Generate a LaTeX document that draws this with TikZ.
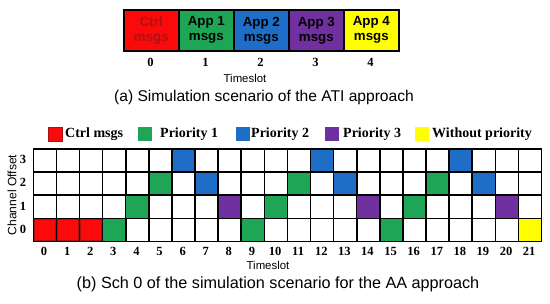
\documentclass[tikz,border=0pt]{standalone}
\usepackage{fontspec}
\setmainfont{Liberation Serif}
\setsansfont{Liberation Sans}
\definecolor{cred}{RGB}{250,10,10}
\definecolor{cdred}{RGB}{170,20,20}
\definecolor{cgreen}{RGB}{30,165,85}
\definecolor{cblue}{RGB}{30,110,200}
\definecolor{cpurple}{RGB}{112,48,160}
\definecolor{cyellow}{RGB}{255,255,0}
\begin{document}
\begin{tikzpicture}[x=1pt,y=-1pt,
  appbox/.style={draw=black, line width=1.6pt, minimum width=55pt, minimum height=41pt, inner sep=0pt,
    font=\sffamily\bfseries\fontsize{13.3}{15}\selectfont, align=center, anchor=north west},
  cellbox/.style={draw=black, line width=1.6pt, minimum width=23.1pt, minimum height=23.2pt, inner sep=0pt, anchor=north west},
  fillcell/.style={minimum width=21.6pt, minimum height=21.7pt, inner sep=0pt, anchor=center},
  legsq/.style={minimum width=14pt, minimum height=14pt, inner sep=0pt},
  legtxt/.style={font=\bfseries\fontsize{14}{16}\selectfont, anchor=west, inner sep=0pt},
  numlab/.style={font=\bfseries\fontsize{12.5}{14}\selectfont, inner sep=0pt},
  axlab/.style={font=\sffamily\fontsize{11.4}{13}\selectfont, inner sep=0pt},
  caplab/.style={font=\sffamily\fontsize{15.6}{18}\selectfont, inner sep=0pt}]
\useasboundingbox (0,0) rectangle (550,304);
% ---------- (a) ATI ----------
\node[appbox, fill=cred, text=cdred] (a0) at (123,9) {Ctrl\\msgs};
\node[appbox, fill=cgreen] (a1) at (178,9) {App 1\\msgs};
\node[appbox, fill=cblue] (a2) at (233,9) {App 2\\msgs};
\node[appbox, fill=cpurple] (a3) at (288,9) {App 3\\msgs};
\node[appbox, fill=cyellow] (a4) at (343,9) {App 4\\msgs};
\foreach \i in {0,...,4} {
  \node[numlab] (ta\i) at (150.5+55*\i,62) {\i};
}
\node[axlab] (tsa) at (245,78) {Timeslot};
\node[caplab] (capa) at (264,97) {(a) Simulation scenario of the ATI approach};
% ---------- legend ----------
\node[legsq, fill=cred, draw=cdred, line width=0.8pt] (l0) at (55,134) {};
\node[legtxt] (lt0) at (65,134) {Ctrl msgs};
\node[legsq, fill=cgreen] (l1) at (145,134) {};
\node[legtxt] (lt1) at (160,134) {Priority 1};
\node[legsq, fill=cblue] (l2) at (243,134) {};
\node[legtxt] (lt2) at (251,134) {Priority 2};
\node[legsq, fill=cpurple] (l3) at (331.5,134) {};
\node[legtxt] (lt3) at (343,134) {Priority 3};
\node[legsq, fill=cyellow] (l4) at (421.5,134) {};
\node[legtxt] (lt4) at (432,134) {Without priority};
% ---------- grid ----------
\foreach \c in {0,...,21} {
  \foreach \r in {0,...,3} {
    \node[cellbox] (c\c-\r) at (32.5+23.1*\c, 148+23.2*3-23.2*\r) {};
  }
  \node[numlab] (tc\c) at (32.5+23.1*\c+11.55, 251) {\c};
}
\foreach \r in {0,...,3} {
  \node[numlab] (tr\r) at (23, 148+23.2*3-23.2*\r+11.6) {\r};
}
\foreach \c/\r/\col in {0/0/cred,1/0/cred,2/0/cred,3/0/cgreen,9/0/cgreen,15/0/cgreen,21/0/cyellow,
  4/1/cgreen,8/1/cpurple,10/1/cgreen,14/1/cpurple,16/1/cgreen,20/1/cpurple,
  5/2/cgreen,7/2/cblue,11/2/cgreen,13/2/cblue,17/2/cgreen,19/2/cblue,
  6/3/cblue,12/3/cblue,18/3/cblue} {
  \node[fillcell, fill=\col] (f\c-\r) at (c\c-\r.center) {};
}
\foreach \c in {0,1,2} {
  \draw[cdred, line width=1pt] ([shift={(1.6pt,-1.6pt)}]c\c-0.north west) rectangle ([shift={(-1.6pt,1.6pt)}]c\c-0.south east);
}
\node[font=\sffamily\fontsize{12.1}{14}\selectfont, rotate=90, inner sep=0pt] (chl) at (12,195) {Channel Offset};
\node[axlab] (tsb) at (268,265) {Timeslot};
\node[caplab, font=\sffamily\fontsize{16.2}{18}\selectfont] (capb) at (278,284) {(b) Sch 0 of the simulation scenario for the AA approach};
\end{tikzpicture}
\end{document}
